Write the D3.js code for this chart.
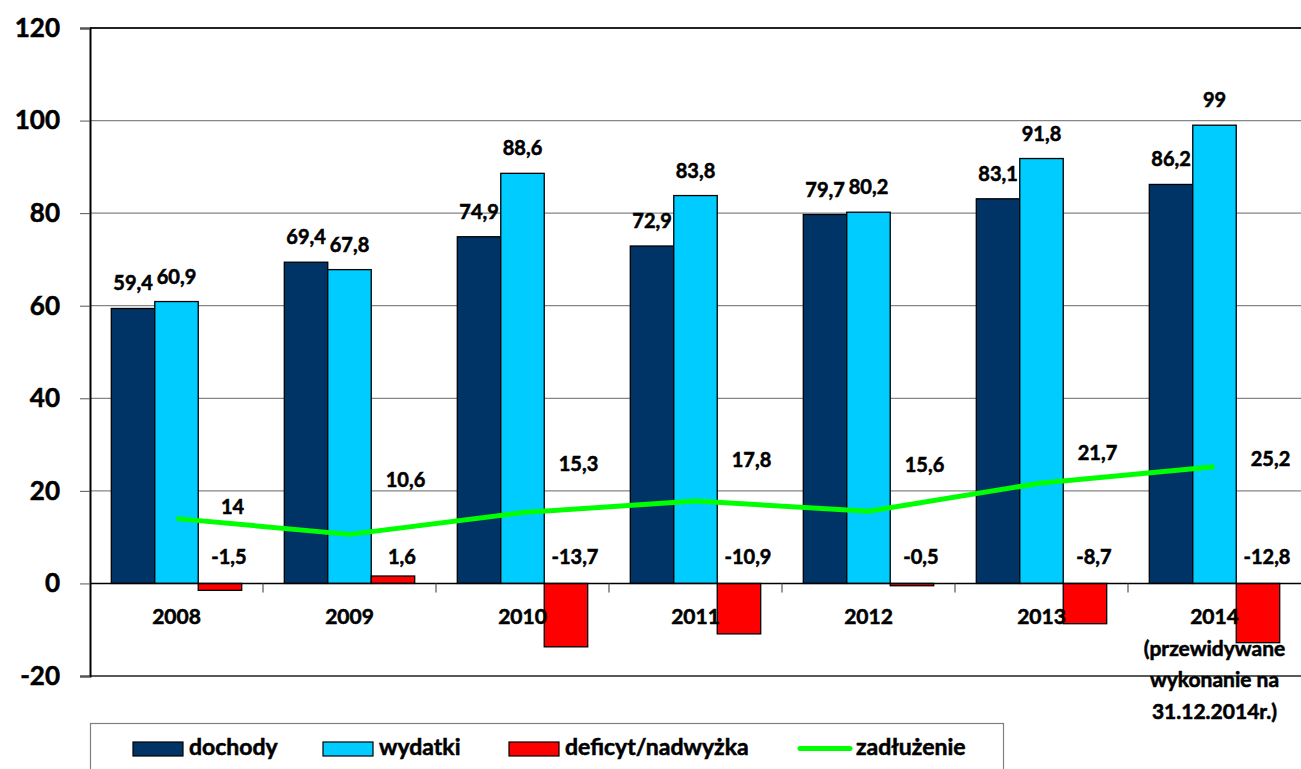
<!DOCTYPE html>
<html><head><meta charset="utf-8">
<script src="https://cdn.jsdelivr.net/npm/d3@7"></script>
<style>
html,body{margin:0;padding:0;background:#fff;overflow:hidden}
text{font-family:Lato,"Open Sans",sans-serif;font-weight:bold;fill:#000;stroke:#000;stroke-width:0.55px}
</style></head>
<body><svg id="c" width="1301" height="769"></svg>
<script>
const categories = ["2008","2009","2010","2011","2012","2013","2014"];
const categoryExtra = {"2014":["(przewidywane","wykonanie na","31.12.2014r.)"]};
const dochody = [59.4,69.4,74.9,72.9,79.7,83.1,86.2];
const wydatki = [60.9,67.8,88.6,83.8,80.2,91.8,99];
const deficyt = [-1.5,1.6,-13.7,-10.9,-0.5,-8.7,-12.8];
const zadluzenie = [14,10.6,15.3,17.8,15.6,21.7,25.2];
const yTicks = [-20,0,20,40,60,80,100,120];
const seriesNames = ["dochody","wydatki","deficyt/nadwyżka","zadłużenie"];
const colors = {"dochody":"#003366","wydatki":"#00CCFF","deficyt/nadwyżka":"#FF0000","zadłużenie":"#00FF00"};
// layout nudges (px) for debt labels, as placed in the original
const debtLabelDy = [-12,-54,-49,-41,-46,-30,-8];

const svg = d3.select("#c");
const L=90, R=1301, T=28, B=676;
const fmt = v => String(v).replace(".",",");

const x0 = d3.scaleBand().domain(categories).range([L,R]).paddingInner(0).paddingOuter(0);
const barSeries = ["dochody","wydatki","deficyt/nadwyżka"];
const x1 = d3.scaleBand().domain(barSeries).range([0,x0.bandwidth()]).paddingInner(0).paddingOuter(0.49);
const y = d3.scaleLinear().domain([-20,120]).range([B,T]);

// gridlines
svg.append("g").selectAll("line").data(yTicks.filter(t=>t>0&&t<120)).join("line")
  .attr("x1",L).attr("x2",R).attr("y1",d=>y(d)).attr("y2",d=>y(d))
  .attr("stroke","#868686").attr("stroke-width",1.2);
// top & bottom border
svg.append("line").attr("x1",L).attr("x2",R).attr("y1",y(120)).attr("y2",y(120)).attr("stroke","#222").attr("stroke-width",2);
svg.append("line").attr("x1",L).attr("x2",R).attr("y1",y(-20)).attr("y2",y(-20)).attr("stroke","#222").attr("stroke-width",1.5);

// y axis
const yAxis = d3.axisLeft(y).tickValues(yTicks).tickSize(10).tickPadding(20).tickFormat(d=>d);
const ga = svg.append("g").attr("transform",`translate(${L},0)`).call(yAxis);
ga.select(".domain").attr("stroke","#000").attr("stroke-width",2);
ga.selectAll(".tick line").attr("stroke","#555");
ga.selectAll(".tick text").style("font-family","Lato").style("font-weight","bold").style("font-size","26px")
  .attr("fill","#000").attr("stroke","#000").attr("stroke-width",0.7);

// bars
const data = categories.map((c,i)=>({cat:c, vals:[dochody[i],wydatki[i],deficyt[i]]}));
const g = svg.append("g");
data.forEach(d=>{
  barSeries.forEach((s,j)=>{
    const v = d.vals[j];
    g.append("rect")
      .attr("x",x0(d.cat)+x1(s)).attr("width",x1.bandwidth())
      .attr("y",y(Math.max(0,v))).attr("height",Math.abs(y(v)-y(0)))
      .attr("fill",colors[s]).attr("stroke","#000").attr("stroke-width",1.3);
  });
});

// zero line with ticks
svg.append("line").attr("x1",L).attr("x2",R).attr("y1",y(0)).attr("y2",y(0)).attr("stroke","#000").attr("stroke-width",1.5);
svg.append("g").selectAll("line").data(categories.slice(1)).join("line")
  .attr("x1",d=>x0(d)).attr("x2",d=>x0(d)).attr("y1",y(0)).attr("y2",y(0)+9)
  .attr("stroke","#555").attr("stroke-width",1.2);

// category labels
const cl = svg.append("g");
categories.forEach(c=>{
  const t = cl.append("text").attr("x",x0(c)+x0.bandwidth()/2).attr("y",y(0)+41)
    .attr("text-anchor","middle").style("font-size","21px");
  t.append("tspan").attr("x",x0(c)+x0.bandwidth()/2).text(c);
  (categoryExtra[c]||[]).forEach(line=>{
    t.append("tspan").attr("x",x0(c)+x0.bandwidth()/2).attr("dy",31.5).text(line);
  });
});

// debt line
const line = d3.line().x((d,i)=>x0(categories[i])+x0.bandwidth()/2).y(d=>y(d));
svg.append("path").datum(zadluzenie).attr("d",line).attr("fill","none")
  .attr("stroke",colors["zadłużenie"]).attr("stroke-width",5).attr("stroke-linejoin","round");

// value labels
const lab = svg.append("g");
data.forEach((d,i)=>{
  ["dochody","wydatki"].forEach((s,j)=>{
    lab.append("text").attr("x",x0(d.cat)+x1(s)+x1.bandwidth()/2).attr("y",y(d.vals[j])-25)
      .attr("dy","0.35em").attr("text-anchor","middle").style("font-size","20px").text(fmt(d.vals[j]));
  });
  const s="deficyt/nadwyżka";
  lab.append("text").attr("x",x0(d.cat)+x1(s)+x1.bandwidth()/2+9).attr("y",y(0)-26)
    .attr("dy","0.35em").attr("text-anchor","middle").style("font-size","20px").text(fmt(d.vals[2]));
  lab.append("text").attr("x",x0(d.cat)+x0.bandwidth()/2+56).attr("y",y(zadluzenie[i])+debtLabelDy[i])
    .attr("dy","0.35em").attr("text-anchor","middle").style("font-size","20px").text(fmt(zadluzenie[i]));
});

// legend
const lg = svg.append("g");
lg.append("rect").attr("x",90.5).attr("y",723.5).attr("width",913).attr("height",60)
  .attr("fill","#fff").attr("stroke","#808080").attr("stroke-width",1.2);
const legendX = [133,323,509,800];
seriesNames.forEach((s,i)=>{
  const lx = legendX[i];
  if(s==="zadłużenie"){
    lg.append("line").attr("x1",lx).attr("x2",lx+50).attr("y1",748.5).attr("y2",748.5)
      .attr("stroke",colors[s]).attr("stroke-width",5).attr("stroke-linecap","round");
  } else {
    lg.append("rect").attr("x",lx).attr("y",742).attr("width",50).attr("height",14)
      .attr("fill",colors[s]).attr("stroke","#000").attr("stroke-width",1.2);
  }
  lg.append("text").attr("x",lx+56).attr("y",747).attr("dy","0.35em").style("font-size","23px").text(s);
});
</script></body></html>
